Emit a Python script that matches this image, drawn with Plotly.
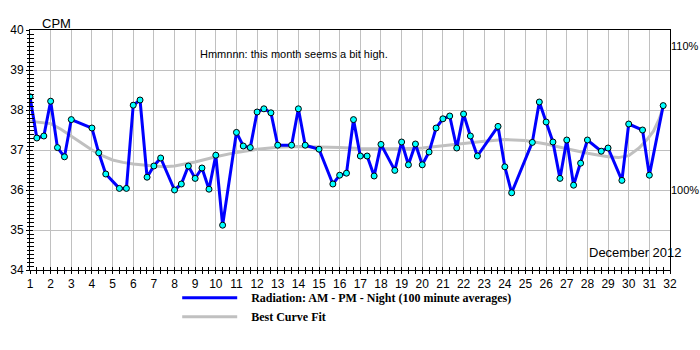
import plotly.graph_objects as go

# Radiation readings (AM / PM / Night, 100 minute averages), x = day of month
reading_day = [1.00, 1.33, 1.67, 2.00, 2.33, 2.67, 3.00, 4.00, 4.33, 4.67,
               5.33, 5.67, 6.00, 6.33, 6.67, 7.00, 7.33, 8.00, 8.33, 8.67,
               9.00, 9.33, 9.67, 10.00, 10.33, 11.00, 11.33, 11.67, 12.00, 12.33,
               12.67, 13.00, 13.67, 14.00, 14.33, 15.00, 15.67, 16.00, 16.33, 16.67,
               17.00, 17.33, 17.67, 18.00, 18.67, 19.00, 19.33, 19.67, 20.00, 20.33,
               20.67, 21.00, 21.33, 21.67, 22.00, 22.33, 22.67, 23.67, 24.00, 24.33,
               25.33, 25.67, 26.00, 26.33, 26.67, 27.00, 27.33, 27.67, 28.00, 28.67,
               29.00, 29.67, 30.00, 30.67, 31.00, 31.67]
reading_cpm = [38.33, 37.30, 37.35, 38.22, 37.06, 36.83, 37.76, 37.55, 36.93, 36.40,
               36.04, 36.04, 38.12, 38.25, 36.32, 36.60, 36.80, 36.00, 36.15, 36.60,
               36.29, 36.55, 36.02, 36.87, 35.12, 37.44, 37.10, 37.06, 37.95, 38.03,
               37.93, 37.12, 37.12, 38.03, 37.12, 37.02, 36.15, 36.37, 36.42, 37.76,
               36.85, 36.85, 36.35, 37.14, 36.49, 37.20, 36.63, 37.15, 36.63, 36.95,
               37.55, 37.78, 37.85, 37.05, 37.90, 37.35, 36.85, 37.59, 36.58, 35.93,
               37.19, 38.20, 37.70, 37.20, 36.29, 37.25, 36.12, 36.67, 37.25, 36.97,
               37.05, 36.24, 37.65, 37.50, 36.37, 38.11]

# Best curve fit
fit_day = [1, 2, 2.5, 3, 3.5, 4, 4.5, 5, 5.5, 6, 7, 7.5, 8, 9, 10, 11, 12, 13, 14,
           15, 16, 17, 18, 19, 20, 21, 22, 23, 24, 25, 26, 27, 28, 29, 29.5, 30,
           30.5, 30.9, 31.2, 31.5, 31.67]
fit_cpm = [37.72, 37.66, 37.52, 37.35, 37.18, 37.00, 36.86, 36.75, 36.69, 36.65,
           36.60, 36.58, 36.60, 36.70, 36.83, 36.94, 37.02, 37.07, 37.09, 37.08,
           37.06, 37.04, 37.03, 37.03, 37.05, 37.10, 37.16, 37.22, 37.26, 37.24,
           37.15, 37.03, 36.92, 36.83, 36.81, 36.86, 37.05, 37.27, 37.47, 37.80, 38.08]

day_ticks = list(range(1, 33))
cpm_range = [34, 40]
baseline_cpm = 36.0          # 100 %
pct_ticks = [100, 110]
pct_labels = ["100%", "110%"]

GRID = "#c0c0c0"
FONT = "Liberation Sans, Arial, sans-serif"
GAP = "\u00a0\u00a0\u00a0"

fig = go.Figure()

fig.add_trace(go.Scatter(
    x=fit_day, y=fit_cpm, mode="lines",
    line=dict(color="#c0c0c0", width=3),
    name=GAP + "<b>Best Curve Fit</b>", legendrank=2, hoverinfo="skip"))

fig.add_trace(go.Scatter(
    x=reading_day, y=reading_cpm, mode="lines",
    line=dict(color="#0000ff", width=3),
    name=GAP + "<b>Radiation: AM - PM - Night (100 minute averages)</b>",
    legendrank=1))

fig.add_trace(go.Scatter(
    x=reading_day, y=reading_cpm, mode="markers",
    marker=dict(color="#00ffff", size=6, line=dict(color="black", width=1)),
    showlegend=False))

# invisible trace for the percent axis
fig.add_trace(go.Scatter(
    x=[1], y=[100], xaxis="x", yaxis="y2", mode="markers",
    marker=dict(opacity=0), showlegend=False, hoverinfo="skip"))
# invisible trace for the inner tick axis
fig.add_trace(go.Scatter(
    x=[1], y=[35], xaxis="x2", yaxis="y3", mode="markers",
    marker=dict(opacity=0), showlegend=False, hoverinfo="skip"))

axis_common = dict(showline=True, linecolor="black", linewidth=1, mirror=True,
                   zeroline=False, gridcolor=GRID, gridwidth=1, automargin=False,
                   tickcolor="black", tickfont=dict(family=FONT, size=12, color="black"))

fig.update_layout(
    width=700, height=350,
    margin=dict(l=30, r=30, t=30, b=80, autoexpand=False),
    paper_bgcolor="white", plot_bgcolor="white",
    xaxis=dict(range=[1, 32], tickmode="array", tickvals=day_ticks,
               ticks="outside", ticklen=3,
               minor=dict(dtick=1/3, tick0=1, ticks="outside", ticklen=3,
                          tickcolor="black", showgrid=False),
               **axis_common),
    yaxis=dict(range=cpm_range, dtick=1, ticks="outside", ticklen=3,
               minor=dict(dtick=0.1, ticks="outside", ticklen=2,
                          tickcolor="black", showgrid=False),
               **axis_common),
    yaxis2=dict(overlaying="y", side="right", anchor="x", automargin=False,
                range=[cpm_range[0] / baseline_cpm * 100, cpm_range[1] / baseline_cpm * 100],
                tickmode="array", tickvals=pct_ticks, ticktext=pct_labels,
                showgrid=False, zeroline=False, showline=False, ticks="",
                ticklabelstandoff=0,
                tickfont=dict(family=FONT, size=11, color="black")),
    xaxis2=dict(overlaying="x", anchor="y3", range=[1, 32], tickmode="array",
                tickvals=day_ticks, ticks="inside", ticklen=3, tickcolor="black",
                minor=dict(dtick=1/3, tick0=1, ticks="inside", ticklen=3, tickcolor="black"),
                showticklabels=False, showgrid=False, zeroline=False, showline=False,
                automargin=False),
    yaxis3=dict(overlaying="y", anchor="x2", range=cpm_range, dtick=1,
                ticks="inside", ticklen=3, tickcolor="black",
                minor=dict(dtick=0.1, ticks="inside", ticklen=4, tickcolor="black"),
                showticklabels=False, showgrid=False, zeroline=False, showline=False,
                automargin=False),
    showlegend=True,
    legend=dict(x=0.23, y=-0.055, xanchor="left", yanchor="top",
                font=dict(family="Liberation Serif, Times New Roman, serif", size=12, color="black"),
                itemwidth=55, tracegroupgap=0, bgcolor="rgba(0,0,0,0)"),
    annotations=[
        dict(text="CPM", xref="paper", yref="paper", x=0.0156, y=1.028,
             xanchor="left", yanchor="middle", showarrow=False,
             font=dict(family=FONT, size=13, color="black")),
        dict(text="Hmmnnn: this month seems a bit high.", xref="paper", yref="paper",
             x=0.4125, y=0.9, xanchor="center", yanchor="middle", showarrow=False,
             font=dict(family=FONT, size=11, color="black")),
        dict(text="December 2012", xref="paper", yref="paper", x=1.022, y=0.072,
             xanchor="right", yanchor="middle", showarrow=False,
             font=dict(family=FONT, size=13, color="black")),
    ],
)

fig.write_html("out.html", config={"displayModeBar": False})
